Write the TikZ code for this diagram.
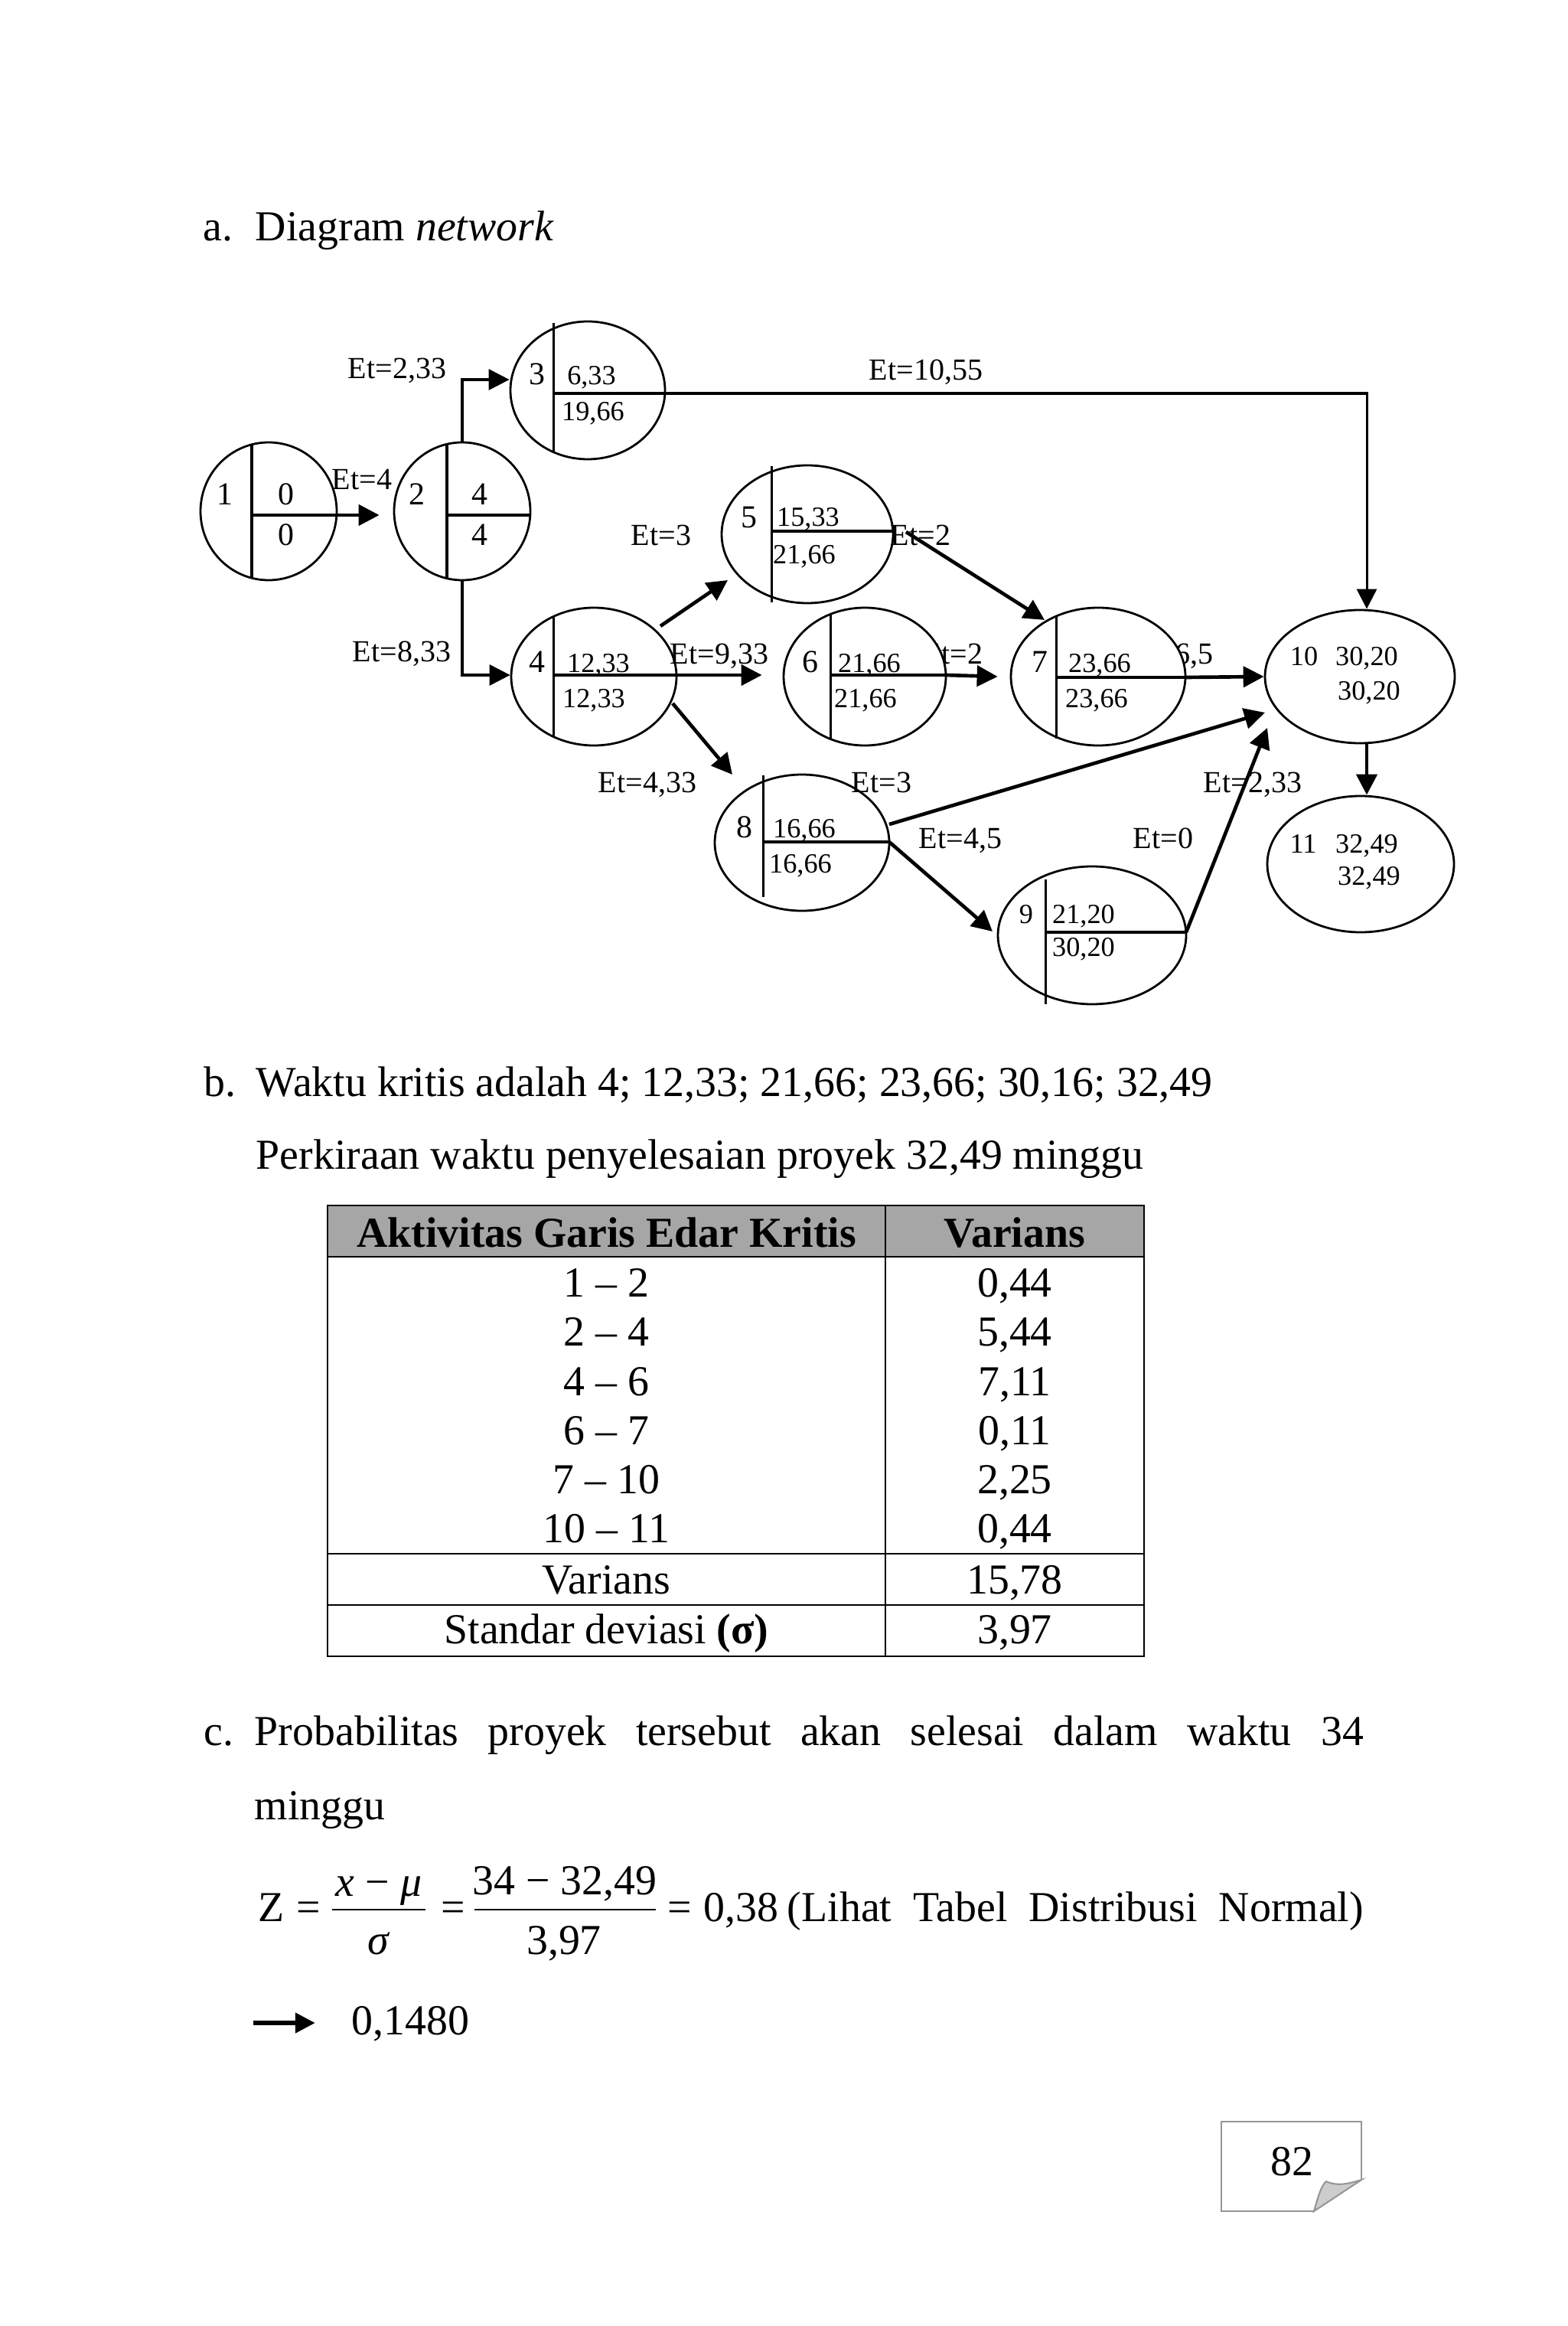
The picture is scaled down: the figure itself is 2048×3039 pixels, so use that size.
\documentclass[tikz,border=0pt]{standalone}
\usepackage{fontspec}
\setmainfont{Liberation Serif}
\usetikzlibrary{shapes.geometric,arrows.meta,calc}
\definecolor{hdrgray}{RGB}{166,166,166}
\definecolor{boxgray}{RGB}{150,150,150}
\definecolor{foldgray}{RGB}{205,205,205}
\begin{document}
\begin{tikzpicture}[x=0.215pt,y=-0.215pt,
  ev/.style 2 args={ellipse,draw,fill=white,line width=0.6pt,inner sep=0pt,
     minimum width={2*#1*0.215pt},minimum height={2*#2*0.215pt}},
  div/.style={line width=0.65pt},
  lab/.style={font=\fontsize{8.6}{10}\selectfont,inner sep=0pt,anchor=base},
  num/.style={font=\fontsize{9}{10}\selectfont,inner sep=0pt,anchor=base},
  val/.style={font=\fontsize{7.8}{9}\selectfont,inner sep=0pt,anchor=base},
  sml/.style={font=\fontsize{7.8}{9}\selectfont,inner sep=0pt,anchor=base},
  arr/.style={line width=1pt,-{Triangle[length=5.8pt,width=5.8pt]}},
  arrthin/.style={line width=0.7pt,-{Triangle[length=5.8pt,width=5.8pt]}},
  body/.style={font=\fontsize{12}{14}\selectfont,inner sep=0pt,anchor=base west},
  cell/.style={font=\fontsize{12}{14}\selectfont,inner sep=0pt,anchor=base},
  tbl/.style={line width=0.45pt}]
\fill[white] (0,0) rectangle (2048,3039);
\useasboundingbox (0,0) rectangle (2048,3039);

% ---------- heading a ----------
\node[body] (ta) at (265,315) {a.};
\node[body] (tb) at (333,315) {Diagram \textit{network}};

% ---------- labels partly hidden behind nodes ----------
\node[lab,anchor=base east] (l67) at (1285,867) {Et=2};
\node[lab,anchor=base east] (l710) at (1586,867) {Et=6,5};

% ---------- event nodes ----------
\node[ev={89}{90}]  (n1)  at (351,668)  {};
\node[ev={89}{90}]  (n2)  at (604,668)  {};
\node[ev={101}{90}] (n3)  at (768,510)  {};
\node[ev={108}{90}] (n4)  at (776,884)  {};
\node[ev={112}{90}] (n5)  at (1055,698) {};
\node[ev={106}{90}] (n6)  at (1130,884) {};
\node[ev={114}{90}] (n7)  at (1435,884) {};
\node[ev={114}{89}] (n8)  at (1048,1101) {};
\node[ev={123}{90}] (n9)  at (1427,1222) {};
\node[ev={124}{87}] (n10) at (1777,884) {};
\node[ev={122}{89}] (n11) at (1778,1129) {};

% ---------- dividers ----------
\draw[div] ($(n1.center)+(-22,-88)$) -- ($(n1.center)+(-22,88)$);
\draw[div] ($(n1.center)+(-22,5)$) -- ($(n1.center)+(89,5)$);
\draw[div] ($(n2.center)+(-20,-88)$) -- ($(n2.center)+(-20,88)$);
\draw[div] ($(n2.center)+(-20,5)$) -- ($(n2.center)+(89,5)$);
\draw[div] ($(n3.center)+(-45,-88)$) -- ($(n3.center)+(-45,80)$);
\draw[div] ($(n3.center)+(-45,4)$) -- ($(n3.center)+(101,4)$);
\draw[div] ($(n4.center)+(-53,-78)$) -- ($(n4.center)+(-53,80)$);
\draw[div] ($(n4.center)+(-53,-2)$) -- ($(n4.center)+(108,-2)$);
\draw[div] ($(n5.center)+(-47,-89)$) -- ($(n5.center)+(-47,89)$);
\draw[div] ($(n5.center)+(-47,-4)$) -- ($(n5.center)+(112,-4)$);
\draw[div] ($(n6.center)+(-45,-81)$) -- ($(n6.center)+(-45,81)$);
\draw[div] ($(n6.center)+(-45,-2)$) -- ($(n6.center)+(106,-2)$);
\draw[div] ($(n7.center)+(-55,-79)$) -- ($(n7.center)+(-55,81)$);
\draw[div] ($(n7.center)+(-55,1)$) -- ($(n7.center)+(114,1)$);
\draw[div] ($(n8.center)+(-51,-88)$) -- ($(n8.center)+(-51,71)$);
\draw[div] ($(n8.center)+(-51,-1)$) -- ($(n8.center)+(114,-1)$);
\draw[div] ($(n9.center)+(-61,-73)$) -- ($(n9.center)+(-61,90)$);
\draw[div] ($(n9.center)+(-61,-4)$) -- ($(n9.center)+(123,-4)$);

% ---------- node texts ----------
\node[num] (t1a) at (294,660) {1};
\node[num] (t1b) at (374,660) {0};
\node[num] (t1c) at (374,713) {0};
\node[num] (t2a) at (545,660) {2};
\node[num] (t2b) at (627,660) {4};
\node[num] (t2c) at (627,713) {4};
\node[num] (t3a) at (702,503) {3};
\node[val] (t3b) at (773,503) {6,33};
\node[val] (t3c) at (775,550) {19,66};
\node[num] (t4a) at (702,878) {4};
\node[val] (t4b) at (782,878) {12,33};
\node[val] (t4c) at (776,924) {12,33};
\node[num] (t5a) at (979,690) {5};
\node[val] (t5b) at (1056,688) {15,33};
\node[val] (t5c) at (1051,737) {21,66};
\node[num] (t6a) at (1059,878) {6};
\node[val] (t6b) at (1136,878) {21,66};
\node[val] (t6c) at (1131,924) {21,66};
\node[num] (t7a) at (1359,878) {7};
\node[val] (t7b) at (1437,878) {23,66};
\node[val] (t7c) at (1433,924) {23,66};
\node[num] (t8a) at (973,1094) {8};
\node[val] (t8b) at (1051,1094) {16,66};
\node[val] (t8c) at (1046,1140) {16,66};
\node[sml] (t9a) at (1341,1206) {9};
\node[sml] (t9b) at (1416,1206) {21,20};
\node[sml] (t9c) at (1416,1249) {30,20};
\node[sml] (t10a) at (1704,869) {10};
\node[sml] (t10b) at (1786,869) {30,20};
\node[sml] (t10c) at (1789,914) {30,20};
\node[sml] (t11a) at (1703,1114) {11};
\node[sml] (t11b) at (1786,1114) {32,49};
\node[sml] (t11c) at (1789,1156) {32,49};

% ---------- activity labels ----------
\node[lab] (l23)  at (519,495)  {Et=2,33};
\node[lab] (l12)  at (473,640)  {Et=4};
\node[lab] (l24)  at (525,865)  {Et=8,33};
\node[lab] (l45)  at (864,713)  {Et=3};
\node[lab] (l310) at (1210,497) {Et=10,55};
\node[lab] (l57)  at (1203,713) {Et=2};
\node[lab] (l46)  at (940,867)  {Et=9,33};
\node[lab] (l48)  at (846,1035) {Et=4,33};
\node[lab] (l810) at (1152,1035) {Et=3};
\node[lab] (l89)  at (1255,1108) {Et=4,5};
\node[lab] (l0)   at (1520,1108) {Et=0};
\node[lab] (l910) at (1637,1035) {Et=2,33};

% ---------- arrows ----------
\draw[arr] ($(n1.center)+(89,5)$) -- ($(n2.west)+(-18,5)$);
\draw[arrthin] (n2.north) |- ($(n3.west)+(0,-14)$);
\draw[arrthin] (n2.south) |- ($(n4.west)+(0,-2)$);
\draw[line width=0.65pt,-{Triangle[length=5.6pt,width=5.6pt]}] ($(n3.center)+(101,4)$) -| ($(n10.north)+(9,0)$);
\draw[arr] ($(n4.center)+(87,-66)$) -- ($(n5.center)+(-104,60)$);
\draw[arr] ($(n4.center)+(108,-2)$) -- ($(n6.west)+(-27,-2)$);
\draw[arr] ($(n5.center)+(129,-3)$) -- ($(n7.center)+(-70,-74)$);
\draw[arr] ($(n6.center)+(106,-2)$) -- ($(n7.west)+(-16,0)$);
\draw[arr] ($(n7.center)+(114,1)$) -- (n10.west);
\draw[arr] ($(n4.center)+(103,35)$) -- ($(n8.center)+(-91,-89)$);
\draw[arr] ($(n8.center)+(114,-24)$) -- ($(n10.center)+(-124,47)$);
\draw[arr] ($(n8.center)+(114,-1)$) -- ($(n9.center)+(-130,-5)$);
\draw[arr] ($(n9.center)+(123,-4)$) -- ($(n10.center)+(-121,67)$);
\draw[arr] ($(n10.south)+(9,0)$) -- ($(n11.north)+(8,0)$);

% ---------- part b ----------
\node[body] (b1) at (266,1432) {b.};
\node[body] (b2) at (334,1432) {Waktu kritis adalah 4; 12,33; 21,66; 23,66; 30,16; 32,49};
\node[body] (b3) at (334,1527) {Perkiraan waktu penyelesaian proyek 32,49 minggu};

% ---------- table ----------
\fill[hdrgray] (428,1575) rectangle (1495,1642);
\draw[tbl] (428,1575) rectangle (1495,2164);
\draw[tbl] (428,1642) -- (1495,1642);
\draw[tbl] (428,2030) -- (1495,2030);
\draw[tbl] (428,2097) -- (1495,2097);
\draw[tbl] (1157,1575) -- (1157,2164);
\node[cell] (h1) at (792.5,1629) {\bfseries Aktivitas Garis Edar Kritis};
\node[cell] (h2) at (1326,1629) {\bfseries Varians};
\node[cell] (r1a) at (792.5,1694) {1 – 2};
\node[cell] (r1b) at (1326,1694) {0,44};
\node[cell] (r2a) at (792.5,1758) {2 – 4};
\node[cell] (r2b) at (1326,1758) {5,44};
\node[cell] (r3a) at (792.5,1823) {4 – 6};
\node[cell] (r3b) at (1326,1823) {7,11};
\node[cell] (r4a) at (792.5,1887) {6 – 7};
\node[cell] (r4b) at (1326,1887) {0,11};
\node[cell] (r5a) at (792.5,1951) {7 – 10};
\node[cell] (r5b) at (1326,1951) {2,25};
\node[cell] (r6a) at (792.5,2015) {10 – 11};
\node[cell] (r6b) at (1326,2015) {0,44};
\node[cell] (r7a) at (792.5,2082) {Varians};
\node[cell] (r7b) at (1326,2082) {15,78};
\node[cell] (r8a) at (792.5,2147) {Standar deviasi \textbf{(σ)}};
\node[cell] (r8b) at (1326,2147) {3,97};

% ---------- part c ----------
\node[body] (c1) at (266,2280) {c.};
\node[body] (c2) at (332,2280) {\makebox[311.5pt][s]{Probabilitas proyek tersebut akan selesai dalam waktu 34}};
\node[body] (c3) at (332,2377) {minggu};

\node[body] (fz) at (337,2510) {Z};
\node[cell] (fe1) at (403.5,2510) {=};
\draw[line width=0.4pt] (434,2495) -- (556,2495);
\node[cell] (fn1) at (495,2477) {\textit{x} − \textit{μ}};
\node[cell] (fd1) at (495,2553) {\textit{σ}};
\node[cell] (fe2) at (592,2510) {=};
\draw[line width=0.4pt] (620,2495) -- (857,2495);
\node[cell] (fn2) at (738,2475) {34 − 32,49};
\node[cell] (fd2) at (737,2553) {3,97};
\node[cell] (fe3) at (888,2510) {=};
\node[body] (fv) at (919,2510) {0,38};
\node[body] (fl) at (1028,2510) {\makebox[161.9pt][s]{(Lihat Tabel Distribusi Normal)}};

\coordinate (r0) at (331,2643);
\coordinate (r1) at (412,2643);
\draw[line width=1.4pt,-{Triangle[length=5.6pt,width=5.4pt]}] (r0) -- (r1);
\node[body] (res) at (459,2658) {0,1480};

% ---------- page number ----------
\draw[boxgray,line width=0.45pt,fill=white] (1717,2889) -- (1596,2889) -- (1596,2772) -- (1779,2772) -- (1779,2848);
\draw[boxgray,line width=0.45pt,fill=foldgray] (1717,2889) .. controls (1722,2872) and (1726,2856) .. (1733,2850) .. controls (1748,2857) and (1762,2853) .. (1779,2848) -- cycle;
\node[cell] (pg) at (1688,2842) {82};
\end{tikzpicture}
\end{document}
